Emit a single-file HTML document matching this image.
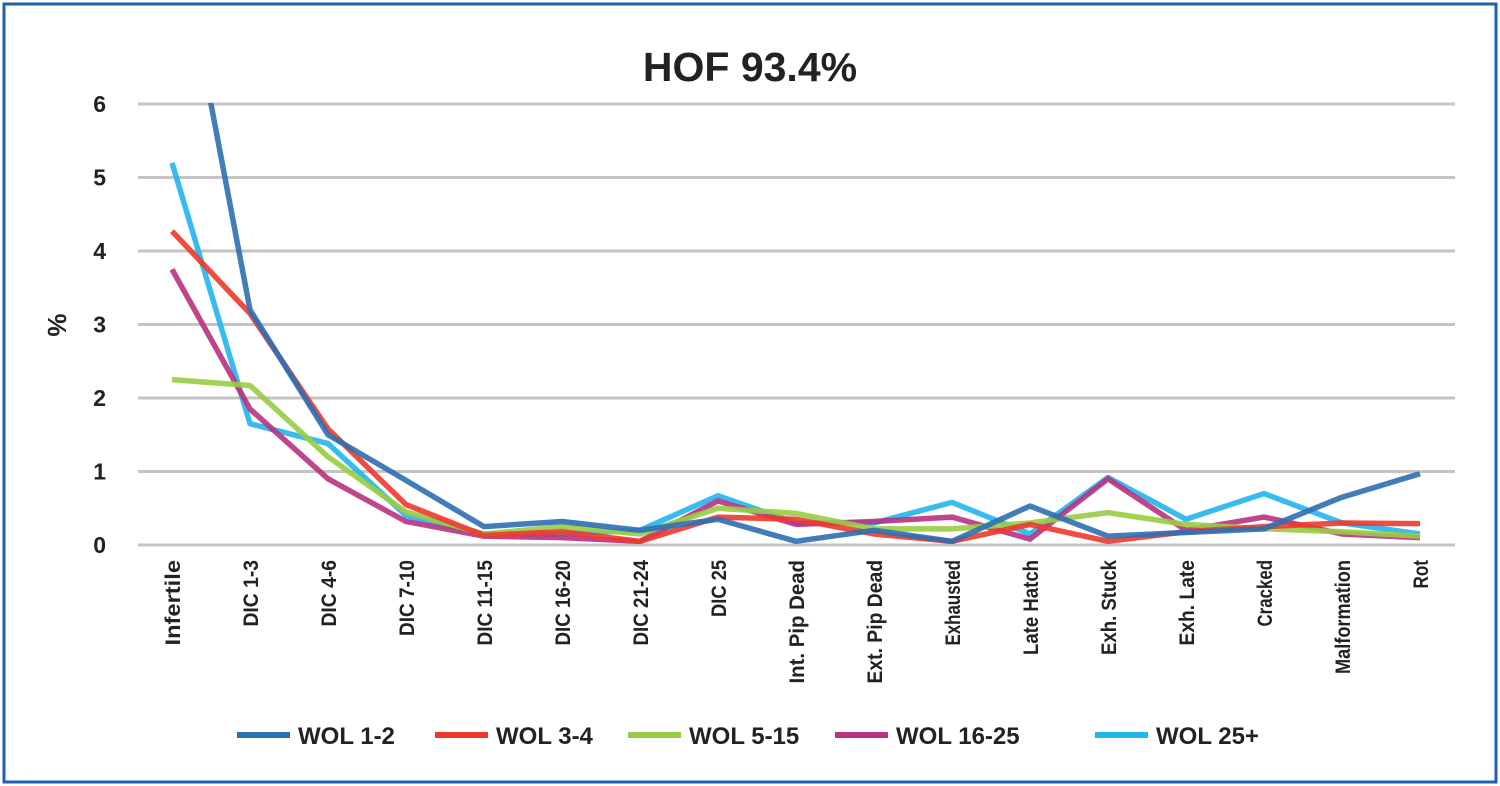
<!DOCTYPE html>
<html><head><meta charset="utf-8"><style>
body{margin:0;background:#fff;}
svg{display:block;font-family:"Liberation Sans",sans-serif;}
</style></head><body>
<svg id="c" width="1500" height="786" viewBox="0 0 1500 786">
<rect x="4" y="4" width="1492" height="778" fill="#fff" stroke="#1f5fae" stroke-width="3"/>
<text x="750" y="81" text-anchor="middle" font-size="41" font-weight="bold" fill="#222">HOF 93.4%</text>
<text x="0" y="0" transform="translate(66,325) rotate(-90)" text-anchor="middle" font-size="26" font-weight="bold" fill="#222">%</text>
<defs><clipPath id="pc"><rect x="130" y="103" width="1340" height="460"/></clipPath></defs>
<g id="grid"></g><g id="lines" clip-path="url(#pc)"></g><g id="xl"></g><g id="leg"></g>
</svg>
<script>
const categories=["Infertile","DIC 1-3","DIC 4-6","DIC 7-10","DIC 11-15","DIC 16-20","DIC 21-24","DIC 25","Int. Pip Dead","Ext. Pip Dead","Exhausted","Late Hatch","Exh. Stuck","Exh. Late","Cracked","Malformation","Rot"];
const seriesNames=["WOL 1-2","WOL 3-4","WOL 5-15","WOL 16-25","WOL 25+"];
const wol12=[8.8,3.2,1.5,0.88,0.25,0.32,0.2,0.35,0.05,0.2,0.05,0.53,0.12,0.17,0.22,0.65,0.97];
const wol34=[4.27,3.15,1.58,0.55,0.13,0.18,0.05,0.38,0.35,0.15,0.05,0.28,0.05,0.18,0.25,0.3,0.29];
const wol515=[2.25,2.17,1.2,0.45,0.15,0.25,0.15,0.5,0.43,0.22,0.22,0.3,0.44,0.28,0.22,0.18,0.12];
const wol1625=[3.75,1.85,0.9,0.32,0.12,0.1,0.05,0.6,0.28,0.32,0.38,0.08,0.9,0.2,0.38,0.15,0.1];
const wol25p=[5.2,1.65,1.38,0.4,0.15,0.15,0.2,0.67,0.3,0.3,0.58,0.15,0.92,0.35,0.7,0.3,0.15];
const yTicks=[0,1,2,3,4,5,6];
const colors=["#2e6fb3","#f0392c","#99cc44","#b8327f","#22b5ee"];
const NS="http://www.w3.org/2000/svg";
const x=i=>172+i*(1420-172)/(categories.length-1);
const y=v=>545-v*(545-104)/6;
function mk(t,a,p){const e=document.createElementNS(NS,t);for(const k in a)e.setAttribute(k,a[k]);p.appendChild(e);return e;}
const g=document.getElementById('grid');
yTicks.forEach(t=>{
 const l=mk('line',{x1:138,x2:1455,y1:y(t),y2:y(t),stroke:'#c4c4c4','stroke-width':3},g);
 
 
 const tx=mk('text',{x:106,y:y(t)+8,'text-anchor':'end','font-size':23,'font-weight':'bold',fill:'#222'},g);
 tx.textContent=t;
 
 
});
const xl=document.getElementById('xl');
categories.forEach((c,i)=>{
 const t=mk('text',{transform:`translate(${x(i)+8},560) rotate(-90)`,'text-anchor':'end','font-size':21,fill:'#222','font-weight':'bold'},xl);
 t.setAttribute('textLength',c.length*9.5);
 t.setAttribute('lengthAdjust','spacingAndGlyphs');
 t.textContent=c;
 
 
});
const data=[wol12,wol34,wol515,wol1625,wol25p];
const L=document.getElementById('lines');
[4,3,2,1,0].forEach(s=>{
 const p=mk('polyline',{points:data[s].map((v,i)=>x(i)+','+y(v)).join(' '),fill:'none',stroke:colors[s],'stroke-width':5.5,'stroke-opacity':0.9,'stroke-linejoin':'round'},L);
 
 
});
const lg=document.getElementById('leg');
const lx=[237,435,628,835,1095];
seriesNames.forEach((n,s)=>{
 const gi=mk('g',{},lg);
 
 
 mk('line',{x1:lx[s],x2:lx[s]+53,y1:735,y2:735,stroke:colors[s],'stroke-width':6},gi);
 const t=mk('text',{x:lx[s]+61,y:744,'font-size':24,'font-weight':'bold',fill:'#222'},gi);
 t.textContent=n;
});
</script>
</body></html>
